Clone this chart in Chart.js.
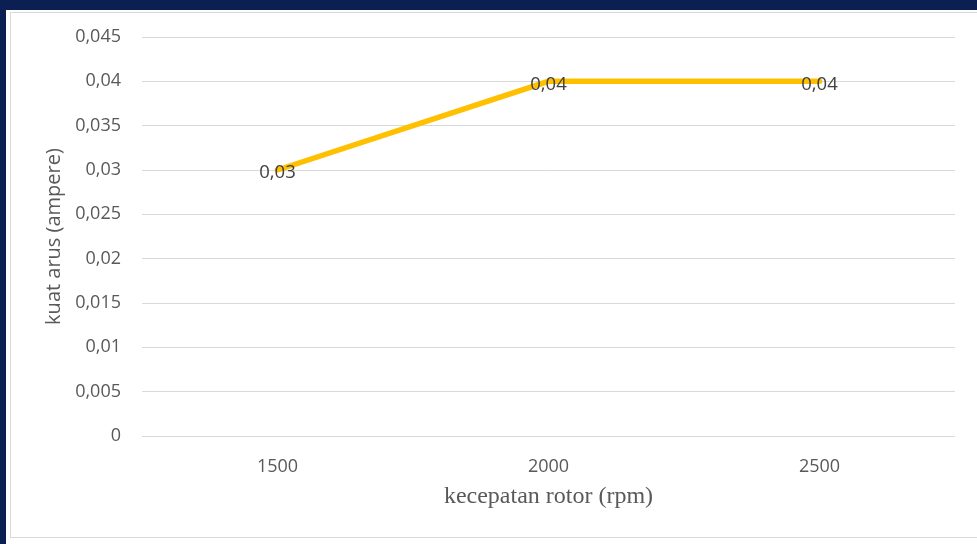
<!DOCTYPE html>
<html>
<head>
<meta charset="utf-8">
<script src="https://cdn.jsdelivr.net/npm/chart.js@4.4.1/dist/chart.umd.min.js"></script>
<style>
    html, body { margin: 0; padding: 0; background: #ffffff; }
    #frame { position: relative; width: 977px; height: 544px; overflow: hidden; background: #ffffff; }
    #bandTop { position: absolute; left: 0; top: 0; width: 977px; height: 10px; background: #0b1f52; }
    #bandLeft { position: absolute; left: 0; top: 0; width: 6px; height: 544px; background: #0b1f52; }
    #box { position: absolute; left: 10px; top: 12px; width: 990px; height: 524px; border: 1px solid #d9d9d9; }
    #chartCanvas { position: absolute; left: 0; top: 0; }
</style>
</head>
<body>
<div id="frame">
    <div id="bandTop"></div>
    <div id="bandLeft"></div>
    <div id="box"></div>
    <canvas id="chartCanvas" width="977" height="544"></canvas>
</div>
<script>
// Rotor speed vs current
const speeds = ['1500', '2000', '2500'];
const currents = [0.03, 0.04, 0.04];
const yTicks = [0, 0.005, 0.01, 0.015, 0.02, 0.025, 0.03, 0.035, 0.04, 0.045];

const lineColor = '#ffc000';
const tickColor = '#595959';
const gridColor = '#d9d9d9';

function formatComma(value) {
    return String(Number(value.toFixed(3))).replace('.', ',');
}

// Writes each point's value centred on the point
const valueLabels = {
    id: 'valueLabels',
    afterDatasetsDraw(chart) {
        const ctx = chart.ctx;
        const meta = chart.getDatasetMeta(0);
        ctx.save();
        ctx.font = '18.5px "Open Sans", sans-serif';
        ctx.fillStyle = '#404040';
        ctx.textAlign = 'center';
        ctx.textBaseline = 'middle';
        meta.data.forEach((pt, i) => {
            ctx.fillText(formatComma(currents[i]), pt.x, pt.y + 3);
        });
        ctx.restore();
    }
};

const ctx = document.getElementById('chartCanvas').getContext('2d');
new Chart(ctx, {
    type: 'line',
    data: {
        labels: speeds,
        datasets: [{
            data: currents,
            borderColor: lineColor,
            backgroundColor: lineColor,
            borderWidth: 5.5,
            pointRadius: 0,
            tension: 0,
            borderCapStyle: 'round'
        }]
    },
    options: {
        responsive: false,
        animation: false,
        layout: {
            padding: { left: 0, right: 22, top: 37, bottom: 0 }
        },
        plugins: {
            legend: { display: false },
            tooltip: { enabled: false }
        },
        scales: {
            x: {
                offset: true,
                afterFit(scale) { scale.height = 108; },
                grid: { display: false, drawTicks: false },
                border: { display: false },
                ticks: {
                    color: tickColor,
                    font: { family: '"Open Sans", sans-serif', size: 18 },
                    padding: 20
                },
                title: {
                    display: true,
                    text: 'kecepatan rotor (rpm)',
                    color: tickColor,
                    font: { family: '"Liberation Serif", "Times New Roman", serif', size: 24 },
                    padding: { top: 0, bottom: 33 }
                }
            },
            y: {
                min: 0,
                max: 0.045,
                afterFit(scale) { scale.width = 142; },
                afterBuildTicks(scale) {
                    scale.ticks = yTicks.map(v => ({ value: v }));
                },
                grid: { color: gridColor, lineWidth: 1, drawTicks: false },
                border: { display: false },
                ticks: {
                    color: tickColor,
                    font: { family: '"Open Sans", sans-serif', size: 18 },
                    padding: 21,
                    callback: value => formatComma(value)
                },
                title: {
                    display: true,
                    text: 'kuat arus (ampere)',
                    color: tickColor,
                    font: { family: '"Open Sans", sans-serif', size: 20 },
                    padding: { top: 42, bottom: 0 }
                }
            }
        }
    },
    plugins: [valueLabels]
});
</script>
</body>
</html>
